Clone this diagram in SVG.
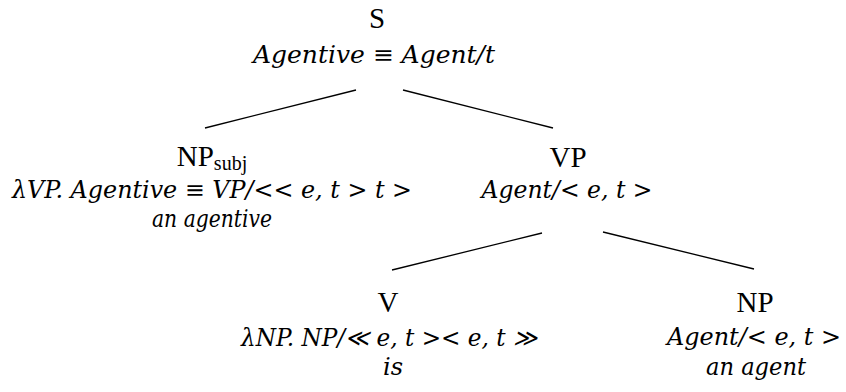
<svg xmlns="http://www.w3.org/2000/svg" width="846" height="392" viewBox="0 0 846 392">
<style>
.lab{font-family:"Liberation Serif","Times New Roman",serif;font-size:29px;fill:#000;text-anchor:middle}
.sub{font-size:20px}
.m{font-family:"DejaVu Serif","Liberation Serif",serif;font-style:italic;font-size:24px;fill:#000;text-anchor:middle}
.edge{stroke:#000;stroke-width:1.3;fill:none}
</style>
<rect width="846" height="392" fill="#fff"/>
<g id="connectors">
<line class="edge" x1="356" y1="90" x2="205" y2="128"/>
<line class="edge" x1="403" y1="90" x2="553" y2="128"/>
<line class="edge" x1="542" y1="233" x2="392" y2="270"/>
<line class="edge" x1="603" y1="232" x2="754" y2="269"/>
</g>
<g id="S">
<text class="lab" x="377" y="28">S</text>
<text class="m" x="374" y="63" textLength="242" lengthAdjust="spacingAndGlyphs">Agentive ≡ Agent/t</text>
</g>
<g id="NPsubj">
<text class="lab" x="212" y="166">NP<tspan class="sub" dy="4">subj</tspan></text>
<text class="m" x="212" y="198" textLength="400" lengthAdjust="spacingAndGlyphs">λVP. Agentive ≡ VP/&lt;&lt; e, t &gt; t &gt;</text>
<text class="m" x="212" y="227" textLength="120" lengthAdjust="spacingAndGlyphs">an agentive</text>
</g>
<g id="VP">
<text class="lab" x="568" y="167">VP</text>
<text class="m" x="567" y="198" textLength="171" lengthAdjust="spacingAndGlyphs">Agent/&lt; e, t &gt;</text>
</g>
<g id="V">
<text class="lab" x="388" y="312">V</text>
<text class="m" x="389" y="346" textLength="296" lengthAdjust="spacingAndGlyphs">λNP. NP/≪ e, t &gt;&lt; e, t ≫</text>
<text class="m" x="393" y="375" textLength="20" lengthAdjust="spacingAndGlyphs">is</text>
</g>
<g id="NP">
<text class="lab" x="755" y="312">NP</text>
<text class="m" x="754" y="345" textLength="174" lengthAdjust="spacingAndGlyphs">Agent/&lt; e, t &gt;</text>
<text class="m" x="756" y="375" textLength="100" lengthAdjust="spacingAndGlyphs">an agent</text>
</g>
</svg>
